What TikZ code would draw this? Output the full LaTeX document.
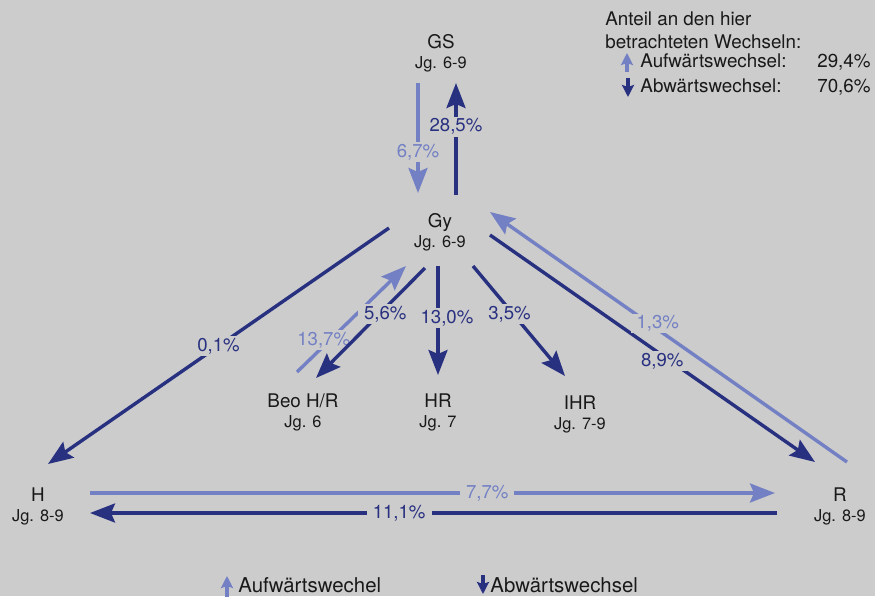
\documentclass[tikz,border=0pt]{standalone}
\usepackage{fontspec}
\setmainfont{TeX Gyre Heros}
\usepackage{tikz}
\usetikzlibrary{arrows.meta}
\definecolor{bg}{RGB}{204,204,204}
\definecolor{abw}{RGB}{40,48,128}
\definecolor{aufw}{RGB}{115,128,196}

\begin{document}
\begin{tikzpicture}[x=0.5pt,y=-0.5pt,
  school/.style={anchor=north,align=center,inner sep=0pt,text=black!90,font=\fontsize{9.4}{10}\selectfont},
  down/.style={draw=abw,line width=1.7pt,-{Stealth[length=12.5pt,width=9.5pt,inset=2pt]}},
  up/.style={down,draw=aufw},
  share/.style={fill=bg,inner xsep=3pt,inner ysep=1pt,font=\fontsize{9.3}{11}\selectfont},
  legend/.style={inner sep=0pt,text=black!90,font=\fontsize{9.4}{11.5}\selectfont},
  keyup/.style={draw=aufw,line width=2pt,-{Stealth[length=6pt,width=6pt,inset=1pt]}},
  keydown/.style={keyup,draw=abw}]
\useasboundingbox[fill=bg] (0,0) rectangle (875,596);
\newcommand{\jg}[1]{\\\fontsize{8.2}{10}\selectfont Jg. #1}
\node[school] (gs) at (441,34) {GS\jg{6-9}};
\node[school] (gy) at (440,213) {Gy\jg{6-9}};
\node[school] (beo) at (303,393) {Beo H/R\jg{6}};
\node[school] (hr) at (438,393) {HR\jg{7}};
\node[school] (ihr) at (580,395) {IHR\jg{7-9}};
\node[school] (h) at (38,487) {H\jg{8-9}};
\node[school] (r) at (840,487) {R\jg{8-9}};
\draw[up] ([shift={(-23,49)}]gs.north) -- node[share,text=aufw,pos=0.63]{6,7\%} ([shift={(-22,-20)}]gy.north);
\draw[down] ([shift={(16,-18)}]gy.north) -- node[share,text=abw,pos=0.61]{28,5\%} ([shift={(15,49)}]gs.north);
\draw[down] ([shift={(-51,15)}]gy.north) -- node[share,text=abw,pos=0.5]{0,1\%} ([shift={(10,-23)}]h.north);
\draw[down] ([shift={(50,22)}]gy.north) -- node[share,text=abw,pos=0.53,yshift=-3pt]{8,9\%} ([shift={(-25,-25)}]r.north);
\draw[up] ([shift={(7,-25)}]r.north) -- node[share,text=aufw,pos=0.53,yshift=3pt]{1,3\%} ([shift={(50,-1)}]gy.north);
\draw[up] ([shift={(52,6)}]h.north) -- node[share,text=aufw,pos=0.58]{7,7\%} ([shift={(-65,6)}]r.north);
\draw[down] ([shift={(-63,26)}]r.north) -- node[share,text=abw,pos=0.55]{11,1\%} ([shift={(52,26)}]h.north);
\draw[up] ([shift={(-6,-21)}]beo.north) -- node[share,text=aufw,pos=0.3,xshift=-3pt]{13,7\%} ([shift={(-34,53)}]gy.north);
\draw[down] ([shift={(-15,55)}]gy.north) -- node[share,text=abw,pos=0.42,xshift=3pt]{5,6\%} ([shift={(13,-15)}]beo.north);
\draw[down] ([shift={(-2,53)}]gy.north) -- node[share,text=abw,pos=0.48,xshift=4.5pt]{13,0\%} ([shift={(0,-18)}]hr.north);
\draw[down] ([shift={(33,53)}]gy.north) -- node[share,text=abw,pos=0.44,xshift=-2pt]{3,5\%} ([shift={(-15,-19)}]ihr.north);
% legend, top right
\node[legend,anchor=north west,align=left] (anteil) at (605,11) {Anteil an den hier\\betrachteten Wechseln:};
\node[legend,anchor=base west] (aufkey) at (640,67) {Aufwärtswechsel:};
\node[legend,anchor=base east] (aufval) at (871,67) {29,4\%};
\node[legend,anchor=base west] (abkey) at (640,92) {Abwärtswechsel:};
\node[legend,anchor=base east] (abval) at (871,92) {70,6\%};
\draw[keyup] ([shift={(-13,5)}]aufkey.base west) -- ([shift={(-13,-14)}]aufkey.base west);
\draw[keydown] ([shift={(-12,-14)}]abkey.base west) -- ([shift={(-12,5)}]abkey.base west);
% legend, bottom
\node[legend,anchor=base west,font=\fontsize{10.2}{12}\selectfont] (auflabel) at (238,592) {Aufwärtswechel};
\node[legend,anchor=base west,font=\fontsize{10.2}{12}\selectfont] (ablabel) at (490,592) {Abwärtswechsel};
\draw[keyup] ([shift={(-11,5)}]auflabel.base west) -- ([shift={(-11,-16)}]auflabel.base west);
\draw[keydown] ([shift={(-7,-17)}]ablabel.base west) -- ([shift={(-7,2)}]ablabel.base west);
\end{tikzpicture}
\end{document}
